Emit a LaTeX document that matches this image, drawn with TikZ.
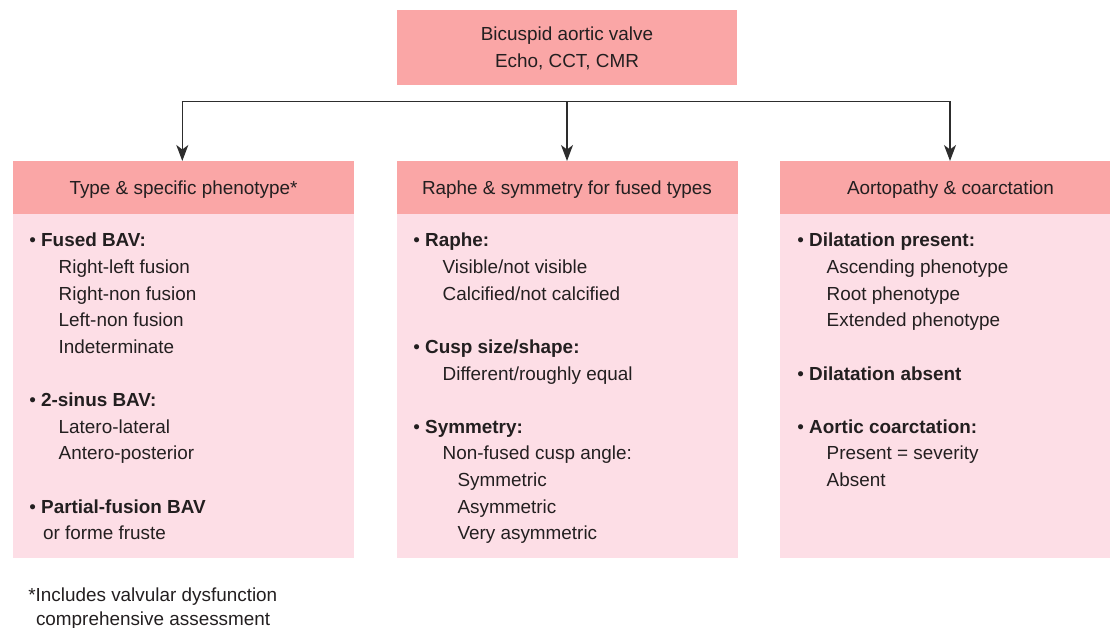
\documentclass[tikz,border=0pt]{standalone}
\usepackage{fontspec}
\setmainfont{Liberation Sans}
\usetikzlibrary{arrows.meta}
\definecolor{hdr}{RGB}{250,166,166}
\definecolor{bodyc}{RGB}{253,222,230}
\definecolor{txt}{RGB}{35,31,32}
\definecolor{ln}{RGB}{45,45,45}
\begin{document}
\begin{tikzpicture}[x=1pt,y=-1pt,
  every node/.style={inner sep=0pt, outer sep=0pt, text=txt, font=\fontsize{18.9}{22}\selectfont},
  topbox/.style={fill=hdr, minimum width=340pt, minimum height=75pt},
  hdrbox/.style={fill=hdr, minimum width=341pt, minimum height=53pt, text height=13.4pt, text depth=0pt},
  bodybox/.style={fill=bodyc, minimum width=341pt, minimum height=343.5pt, anchor=north},
  itm/.style={anchor=base west},
  ctr/.style={anchor=base},
  conn/.style={draw=ln, line width=1.3pt},
  arr/.style={conn, -{Stealth[length=16pt, width=12pt, inset=4.5pt]}}
]
\useasboundingbox (0,0) rectangle (1110,628);
\clip (0,0) rectangle (1110,628);
% top box
\node[topbox] (top) at (567,47.5) {};
\node[ctr] (t1) at (567,41) {Bicuspid aortic valve};
\node[ctr] (t2) at (567,67.7) {Echo, CCT, CMR};
% column headers
\node[hdrbox] (hL) at (183.5,187.5) {Type \& specific phenotype*};
\node[hdrbox] (hM) at (567,187.5) {Raphe \& symmetry for fused types};
\node[hdrbox] (hR) at (950.5,187.5) {Aortopathy \& coarctation};
% bodies
\node[bodybox] (bL) at (183.5,214) {};
\node[bodybox] (bM) at (567,214) {};
\node[bodybox] (bR) at (950.5,214) {};
% connectors
\coordinate (jL) at (182.3,101.5);
\coordinate (jM) at (567,101.5);
\coordinate (jR) at (950,101.5);
\draw[conn] ([xshift=-0.65pt]jL) -- ([xshift=0.65pt]jR);
\draw[arr] (jL) -- (jL |- hL.north);
\draw[arr] (jM) -- (jM |- hM.north);
\draw[arr] (jR) -- (jR |- hR.north);
% left column
\node[itm] (l0) at (29.3,247) {• \textbf{Fused BAV:}};
\node[itm] (l1) at (58.7,273.6) {Right-left fusion};
\node[itm] (l2) at (58.7,300.2) {Right-non fusion};
\node[itm] (l3) at (58.7,326.8) {Left-non fusion};
\node[itm] (l4) at (58.7,353.4) {Indeterminate};
\node[itm] (l6) at (29.3,406.6) {• \textbf{2-sinus BAV:}};
\node[itm] (l7) at (58.7,433.2) {Latero-lateral};
\node[itm] (l8) at (58.7,459.8) {Antero-posterior};
\node[itm] (l10) at (29.3,513) {• \textbf{Partial-fusion BAV}};
\node[itm] (l11) at (43,539.6) {or forme fruste};
% middle column
\node[itm] (m0) at (413.3,247) {• \textbf{Raphe:}};
\node[itm] (m1) at (442.7,273.6) {Visible/not visible};
\node[itm] (m2) at (442.7,300.2) {Calcified/not calcified};
\node[itm] (m4) at (413.3,353.4) {• \textbf{Cusp size/shape:}};
\node[itm] (m5) at (442.7,380) {Different/roughly equal};
\node[itm] (m7) at (413.3,433.2) {• \textbf{Symmetry:}};
\node[itm] (m8) at (442.7,459.8) {Non-fused cusp angle:};
\node[itm] (m9) at (457.5,486.4) {Symmetric};
\node[itm] (m10) at (457.5,513) {Asymmetric};
\node[itm] (m11) at (457.5,539.6) {Very asymmetric};
% right column
\node[itm] (r0) at (797.3,247) {• \textbf{Dilatation present:}};
\node[itm] (r1) at (826.7,273.6) {Ascending phenotype};
\node[itm] (r2) at (826.7,300.2) {Root phenotype};
\node[itm] (r3) at (826.7,326.8) {Extended phenotype};
\node[itm] (r5) at (797.3,380) {• \textbf{Dilatation absent}};
\node[itm] (r7) at (797.3,433.2) {• \textbf{Aortic coarctation:}};
\node[itm] (r8) at (826.7,459.8) {Present = severity};
\node[itm] (r9) at (826.7,486.4) {Absent};
% footnote
\node[itm] (f1) at (28.3,601.5) {*Includes valvular dysfunction};
\node[itm] (f2) at (36,625.5) {comprehensive assessment};
\end{tikzpicture}
\end{document}
